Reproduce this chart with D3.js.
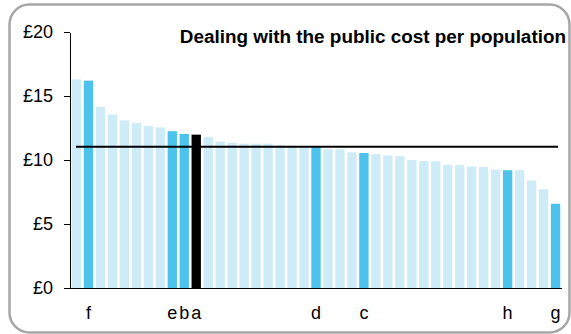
<!DOCTYPE html>
<html>
<head>
<meta charset="utf-8">
<script src="https://cdn.jsdelivr.net/npm/d3@7"></script>
<style>
  html, body { margin: 0; padding: 0; background: #fff; }
  svg { display: block; }
  text { font-family: "Liberation Sans", Arial, sans-serif; }
</style>
</head>
<body>
<svg id="chart" width="571" height="334"></svg>
<script>
// ---- data ----
const chartTitle = "Dealing with the public cost per population";
const barLabels = ["", "f", "", "", "", "", "", "", "e", "b", "a", "", "", "", "", "", "", "", "", "", "d", "", "", "", "c", "", "", "", "", "", "", "", "", "", "", "", "h", "", "", "", "g"];
const costValues = [16.3, 16.2, 14.15, 13.55, 13.1, 12.9, 12.65, 12.55, 12.25, 12.03, 11.98, 11.8, 11.45, 11.35, 11.28, 11.28, 11.28, 11.15, 11.07, 11.04, 11.0, 10.85, 10.83, 10.6, 10.55, 10.45, 10.35, 10.3, 10.0, 9.92, 9.9, 9.62, 9.6, 9.48, 9.45, 9.25, 9.2, 9.2, 8.4, 7.72, 6.58];
// 0 = other, 1 = comparator (highlighted), 2 = selected
const barGroup = [0, 1, 0, 0, 0, 0, 0, 0, 1, 1, 2, 0, 0, 0, 0, 0, 0, 0, 0, 0, 1, 0, 0, 0, 1, 0, 0, 0, 0, 0, 0, 0, 0, 0, 0, 0, 1, 0, 0, 0, 1];
const averageValue = [11.04];
const yTickValues = [0, 5, 10, 15, 20];

// ---- layout ----
const svg = d3.select("#chart");
const colors = ["#cdecf8", "#4bc3ec", "#000000"];

svg.append("rect")
  .attr("x", 9.5).attr("y", 4.5)
  .attr("width", 560).attr("height", 328)
  .attr("rx", 20).attr("ry", 20)
  .attr("fill", "#fff")
  .attr("stroke", "#a6a6a6")
  .attr("stroke-width", 2.5);

const idx = d3.range(costValues.length);
const x = d3.scaleBand().domain(idx).range([70, 562]).paddingInner(0.22).paddingOuter(0.15);
const y = d3.scaleLinear().domain([0, 20]).range([288, 32]);

// bars
svg.append("g").selectAll("rect")
  .data(idx)
  .join("rect")
  .attr("x", i => x(i))
  .attr("width", x.bandwidth())
  .attr("y", i => y(costValues[i]))
  .attr("height", i => y(0) - y(costValues[i]))
  .attr("fill", i => colors[barGroup[i]]);

// average line
svg.append("g").selectAll("line")
  .data(averageValue)
  .join("line")
  .attr("x1", 76).attr("x2", 558)
  .attr("y1", d => y(d)).attr("y2", d => y(d))
  .attr("stroke", "#000")
  .attr("stroke-width", 2);

// y axis
const yAxis = d3.axisLeft(y)
  .tickValues(yTickValues)
  .tickFormat(d => "£" + d)
  .tickSize(6)
  .tickSizeOuter(0)
  .tickPadding(11);
const gy = svg.append("g")
  .attr("transform", "translate(70,0)")
  .call(yAxis);
gy.selectAll("path, line").attr("stroke", "#000").attr("shape-rendering", "crispEdges");
gy.selectAll("text")
  .attr("font-size", 18)
  .attr("fill", "#000")
  .attr("font-family", "'Liberation Sans', Arial, sans-serif");

// x axis baseline
svg.append("line")
  .attr("x1", 65).attr("x2", 562)
  .attr("y1", y(0)).attr("y2", y(0))
  .attr("stroke", "#000")
  .attr("shape-rendering", "crispEdges");

// category labels
svg.append("g").selectAll("text")
  .data(idx.filter(i => barLabels[i] !== ""))
  .join("text")
  .attr("x", i => x(i) + x.bandwidth() / 2)
  .attr("y", 319)
  .attr("text-anchor", "middle")
  .attr("font-size", 18)
  .attr("fill", "#000")
  .text(i => barLabels[i]);

// title
svg.append("text")
  .attr("x", 566)
  .attr("y", 42.5)
  .attr("text-anchor", "end")
  .attr("font-size", 18.9)
  .attr("font-weight", "bold")
  .attr("fill", "#000")
  .text(chartTitle);
</script>
</body>
</html>
